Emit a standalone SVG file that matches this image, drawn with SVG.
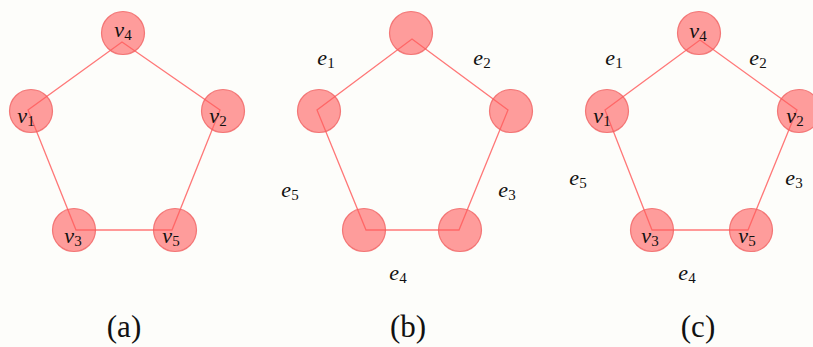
<svg xmlns="http://www.w3.org/2000/svg" width="813" height="347" viewBox="0 0 813 347">
<style>
.bg{fill:#fdfdfa}
.edge{stroke:#ff7878;stroke-width:1.3;fill:none}
.node{fill:#ff5c5c;fill-opacity:0.6;stroke:#f06060;stroke-width:1.2;stroke-opacity:0.8}
.lbl{font-family:"Liberation Serif",serif;font-size:22px;fill:#111;text-anchor:middle}
.v{font-style:italic}
.s{font-size:15px}
.cap{font-family:"Liberation Serif",serif;font-size:31px;fill:#111;text-anchor:middle}
</style>
<rect class="bg" x="0" y="0" width="813" height="347"/>
<g id="connectors">
<polygon class="edge" points="122,42 220,110 172,230 76,230 28,110"/>
<polygon class="edge" points="412,39 508,110 459,230 366,230 317,110"/>
<polygon class="edge" points="700,40 797,110 748,230 652,230 605,110"/>
</g>
<g id="a-v4"><circle class="node" cx="123" cy="33" r="21.5"/><text class="lbl" x="123" y="37"><tspan class="v">v</tspan><tspan class="s" dy="3">4</tspan></text></g>
<g id="a-v1"><circle class="node" cx="31" cy="111" r="21.5"/><text class="lbl" x="26" y="123"><tspan class="v">v</tspan><tspan class="s" dy="3">1</tspan></text></g>
<g id="a-v2"><circle class="node" cx="223" cy="111" r="21.5"/><text class="lbl" x="218" y="123"><tspan class="v">v</tspan><tspan class="s" dy="3">2</tspan></text></g>
<g id="a-v3"><circle class="node" cx="74" cy="230" r="21.5"/><text class="lbl" x="73" y="243"><tspan class="v">v</tspan><tspan class="s" dy="3">3</tspan></text></g>
<g id="a-v5"><circle class="node" cx="175" cy="230" r="21.5"/><text class="lbl" x="171" y="243"><tspan class="v">v</tspan><tspan class="s" dy="3">5</tspan></text></g>

<g id="b-n1"><circle class="node" cx="411" cy="33" r="21.5"/></g>
<g id="b-n2"><circle class="node" cx="319" cy="111" r="21.5"/></g>
<g id="b-n3"><circle class="node" cx="511" cy="111" r="21.5"/></g>
<g id="b-n4"><circle class="node" cx="364" cy="230" r="21.5"/></g>
<g id="b-n5"><circle class="node" cx="460" cy="230" r="21.5"/></g>
<g id="b-labels">
<text class="lbl" x="326" y="65"><tspan class="v">e</tspan><tspan class="s" dy="3">1</tspan></text>
<text class="lbl" x="482" y="65"><tspan class="v">e</tspan><tspan class="s" dy="3">2</tspan></text>
<text class="lbl" x="507" y="197"><tspan class="v">e</tspan><tspan class="s" dy="3">3</tspan></text>
<text class="lbl" x="398" y="280"><tspan class="v">e</tspan><tspan class="s" dy="3">4</tspan></text>
<text class="lbl" x="290" y="197"><tspan class="v">e</tspan><tspan class="s" dy="3">5</tspan></text>
</g>

<g id="c-v4"><circle class="node" cx="699" cy="33" r="21.5"/><text class="lbl" x="698" y="38"><tspan class="v">v</tspan><tspan class="s" dy="3">4</tspan></text></g>
<g id="c-v1"><circle class="node" cx="607" cy="111" r="21.5"/><text class="lbl" x="602" y="123"><tspan class="v">v</tspan><tspan class="s" dy="3">1</tspan></text></g>
<g id="c-v2"><circle class="node" cx="799" cy="111" r="21.5"/><text class="lbl" x="795" y="123"><tspan class="v">v</tspan><tspan class="s" dy="3">2</tspan></text></g>
<g id="c-v3"><circle class="node" cx="652" cy="230" r="21.5"/><text class="lbl" x="650" y="243"><tspan class="v">v</tspan><tspan class="s" dy="3">3</tspan></text></g>
<g id="c-v5"><circle class="node" cx="751" cy="230" r="21.5"/><text class="lbl" x="747" y="243"><tspan class="v">v</tspan><tspan class="s" dy="3">5</tspan></text></g>
<g id="c-labels">
<text class="lbl" x="614" y="65"><tspan class="v">e</tspan><tspan class="s" dy="3">1</tspan></text>
<text class="lbl" x="758" y="65"><tspan class="v">e</tspan><tspan class="s" dy="3">2</tspan></text>
<text class="lbl" x="794" y="185"><tspan class="v">e</tspan><tspan class="s" dy="3">3</tspan></text>
<text class="lbl" x="687" y="280"><tspan class="v">e</tspan><tspan class="s" dy="3">4</tspan></text>
<text class="lbl" x="578" y="185"><tspan class="v">e</tspan><tspan class="s" dy="3">5</tspan></text>
</g>

<g id="captions">
<text class="cap" x="124" y="337">(a)</text>
<text class="cap" x="408" y="337">(b)</text>
<text class="cap" x="698" y="337">(c)</text>
</g>
</svg>
